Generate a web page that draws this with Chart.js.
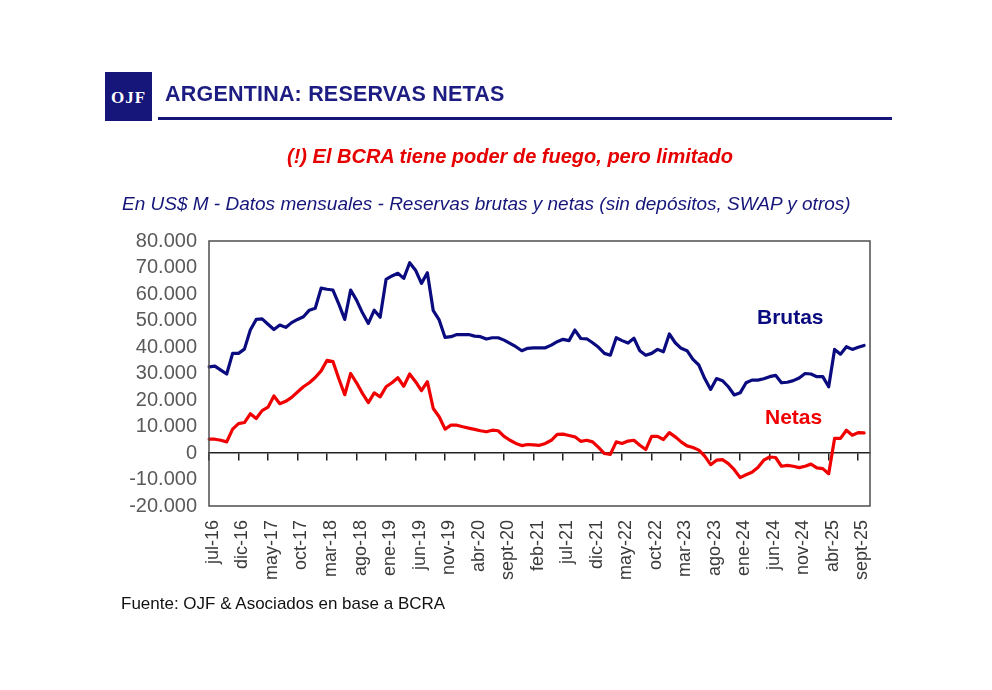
<!DOCTYPE html>
<html>
<head>
<meta charset="utf-8">
<script src="https://cdn.jsdelivr.net/npm/chart.js@4.4.1/dist/chart.umd.min.js"></script>
<style>
  html, body { margin: 0; padding: 0; background: #fff; }
  #wrap { position: relative; width: 992px; height: 690px; overflow: hidden; }
  #c { position: absolute; left: 0; top: 0; }
  .abs { position: absolute; white-space: nowrap; }
  #logo { left: 105px; top: 72px; width: 47px; height: 49px; background: #15157a; color: #fff;
          font: bold 17px "Liberation Serif", serif; letter-spacing: 1px; text-align: center; line-height: 52px; }
  #title { left: 165px; top: 82px; font: bold 21.5px "Liberation Sans", sans-serif; color: #1c1c82; letter-spacing: 0.2px; }
  #rule { left: 158px; top: 117px; width: 734px; height: 3px; background: #15157a; }
  #sub { left: 0; width: 1020px; text-align: center; top: 145px; font: italic bold 20px "Liberation Sans", sans-serif; color: #e60000; }
  #desc { left: 122px; top: 193px; font: italic 19px "Liberation Sans", sans-serif; color: #15157a; }
  #src { left: 121px; top: 594px; font: 17px "Liberation Sans", sans-serif; color: #111; }
  #lb { left: 757px; top: 305px; font: bold 21px "Liberation Sans", sans-serif; color: #0b0b80; }
  #ln { left: 765px; top: 405px; font: bold 21px "Liberation Sans", sans-serif; color: #f00000; }
</style>
</head>
<body>
<div id="wrap">
  <canvas id="c" width="992" height="690"></canvas>
  <div id="logo" class="abs">OJF</div>
  <div id="title" class="abs">ARGENTINA: RESERVAS NETAS</div>
  <div id="rule" class="abs"></div>
  <div id="sub" class="abs">(!) El BCRA tiene poder de fuego, pero limitado</div>
  <div id="desc" class="abs">En US$ M - Datos mensuales - Reservas brutas y netas (sin depósitos, SWAP y otros)</div>
  <div id="src" class="abs">Fuente: OJF &amp; Asociados en base a BCRA</div>
  <div id="lb" class="abs">Brutas</div>
  <div id="ln" class="abs">Netas</div>
</div>
<script>
// Monthly categories, jul-16 .. nov-25
const MONTHS = [
  "jul-16","ago-16","sept-16","oct-16","nov-16","dic-16",
  "ene-17","feb-17","mar-17","abr-17","may-17","jun-17","jul-17","ago-17","sept-17","oct-17","nov-17","dic-17",
  "ene-18","feb-18","mar-18","abr-18","may-18","jun-18","jul-18","ago-18","sept-18","oct-18","nov-18","dic-18",
  "ene-19","feb-19","mar-19","abr-19","may-19","jun-19","jul-19","ago-19","sept-19","oct-19","nov-19","dic-19",
  "ene-20","feb-20","mar-20","abr-20","may-20","jun-20","jul-20","ago-20","sept-20","oct-20","nov-20","dic-20",
  "ene-21","feb-21","mar-21","abr-21","may-21","jun-21","jul-21","ago-21","sept-21","oct-21","nov-21","dic-21",
  "ene-22","feb-22","mar-22","abr-22","may-22","jun-22","jul-22","ago-22","sept-22","oct-22","nov-22","dic-22",
  "ene-23","feb-23","mar-23","abr-23","may-23","jun-23","jul-23","ago-23","sept-23","oct-23","nov-23","dic-23",
  "ene-24","feb-24","mar-24","abr-24","may-24","jun-24","jul-24","ago-24","sept-24","oct-24","nov-24","dic-24",
  "ene-25","feb-25","mar-25","abr-25","may-25","jun-25","jul-25","ago-25","sept-25","oct-25","nov-25"
];

// Reservas brutas, US$ M (jul-16 .. oct-25)
const BRUTAS = [
  32500, 32800, 31300, 29800, 37600, 37600, 39200, 46400, 50400, 50600,
  48600, 46600, 48300, 47400, 49200, 50400, 51400, 53900, 54600, 62200,
  61800, 61500, 56200, 50400, 61500, 57700, 52900, 48900, 53900, 51200,
  65500, 66800, 67800, 65900, 71800, 69000, 64000, 68000, 53700, 50200,
  43600, 43900, 44700, 44700, 44700, 44100, 43900, 43000, 43500, 43500,
  42600, 41400, 40100, 38600, 39500, 39700, 39700, 39700, 40700, 42000,
  42900, 42400, 46400, 43200, 43100, 41600, 39900, 37600, 36900, 43500,
  42400, 41500, 43300, 38600, 36900, 37600, 39100, 38200, 44900, 41600,
  39500, 38600, 35300, 33200, 28100, 24000, 28100, 27300, 25000, 21900,
  22700, 26500, 27500, 27500, 28000, 28800, 29300, 26500, 26700, 27300,
  28300, 30000, 29800, 28800, 28800, 25000, 39100, 37300, 40100, 39100,
  39900, 40600
];

// Reservas netas, US$ M (jul-16 .. oct-25)
const NETAS = [
  5200, 5200, 4800, 4200, 9000, 11100, 11500, 14800, 13000, 16000,
  17300, 21500, 18600, 19500, 21000, 23000, 25000, 26500, 28500, 31000,
  35000, 34500, 28000, 22000, 30000, 26500, 22500, 19000, 22700, 21200,
  25000, 26500, 28400, 25200, 29800, 26900, 23500, 26900, 16800, 13700,
  9000, 10500, 10500, 9900, 9400, 8900, 8400, 8000, 8600, 8400,
  6300, 4800, 3600, 2800, 3200, 3100, 2900, 3600, 4800, 7000,
  7100, 6600, 6100, 4400, 4800, 4200, 2100, -200, -500, 4200,
  3600, 4500, 4800, 2900, 1300, 6300, 6300, 5100, 7700, 6100,
  4200, 2700, 2100, 1100, -1200, -4400, -2700, -2500, -4000, -6300,
  -9300, -8200, -7300, -5500, -2700, -1500, -1700, -5000, -4700, -5000,
  -5500, -5000, -4200, -5600, -5900, -7800, 5500, 5500, 8600, 6700,
  7700, 7600
];

const Y_MIN = -20000, Y_MAX = 80000, Y_STEP = 10000;

function fmtThousands(v) {
  const neg = v < 0;
  let s = String(Math.abs(Math.round(v)));
  s = s.replace(/\B(?=(\d{3})+(?!\d))/g, ".");
  return (neg ? "-" : "") + s;
}

const framePlugin = {
  id: 'frame',
  afterDraw(chart) {
    const { ctx, chartArea: a } = chart;
    ctx.save();
    ctx.strokeStyle = '#4d4d4d';
    ctx.lineWidth = 1.5;
    ctx.strokeRect(a.left, a.top, a.width, a.height);
    ctx.restore();
  }
};

new Chart(document.getElementById('c').getContext('2d'), {
  type: 'line',
  data: {
    labels: MONTHS,
    datasets: [
      { label: 'Brutas', data: BRUTAS, borderColor: '#0b0b80', borderWidth: 3.2,
        pointRadius: 0, tension: 0, borderJoinStyle: 'round', borderCapStyle: 'round',
        xAxisID: 'x', yAxisID: 'y' },
      { label: 'Netas', data: NETAS, borderColor: '#f00000', borderWidth: 3.2,
        pointRadius: 0, tension: 0, borderJoinStyle: 'round', borderCapStyle: 'round',
        xAxisID: 'x', yAxisID: 'y' }
    ]
  },
  options: {
    responsive: false,
    animation: false,
    layout: { padding: { left: 120, top: 241, right: 122, bottom: 94 } },
    plugins: { legend: { display: false }, tooltip: { enabled: false } },
    scales: {
      x: {
        type: 'category',
        position: 'bottom',
        offset: false,
        grid: { display: false },
        border: { display: false },
        ticks: {
          autoSkip: false, minRotation: 90, maxRotation: 90, padding: 6, labelOffset: 4,
          color: '#3a3a3a', font: { family: 'Liberation Sans', size: 18 },
          callback(v, i) { return i % 5 === 0 ? this.getLabelForValue(v) : null; }
        },
        afterFit(s) { s.height = 90; }
      },
      x0: {
        type: 'category',
        position: { y: 0 },
        offset: false,
        grid: {
          drawOnChartArea: false, drawTicks: true, tickLength: 7, lineWidth: 1.5,
          tickColor: (c) => (c.index % 5 === 0 ? '#222' : 'rgba(0,0,0,0)'),
          color: (c) => (c.index % 5 === 0 ? '#222' : 'rgba(0,0,0,0)')
        },
        border: { display: true, color: '#222', width: 1.5 },
        ticks: { display: false, autoSkip: false }
      },
      y: {
        min: Y_MIN, max: Y_MAX,
        grid: { display: false, drawTicks: false },
        border: { display: false },
        ticks: {
          stepSize: Y_STEP, padding: 12, color: '#595959', autoSkip: false,
          font: { family: 'Liberation Sans', size: 20 },
          callback: (v) => fmtThousands(v)
        },
        afterFit(s) { s.width = 89; }
      }
    }
  },
  plugins: [framePlugin]
});
</script>
</body>
</html>
